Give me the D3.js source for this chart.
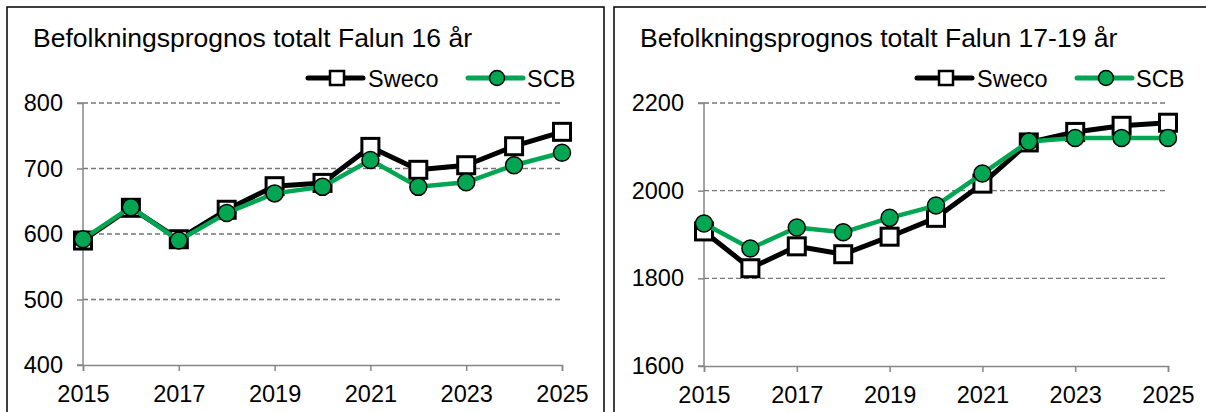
<!DOCTYPE html>
<html>
<head>
<meta charset="utf-8">
<script src="https://cdn.jsdelivr.net/npm/d3@7"></script>
<style>
  body { margin: 0; background: #fff; }
  text { font-family: "Liberation Sans", Arial, sans-serif; fill: #000; }
</style>
</head>
<body>
<svg id="chart"></svg>
<script>
// data
const years = [2015, 2016, 2017, 2018, 2019, 2020, 2021, 2022, 2023, 2024, 2025]
const yearTicks = [2015, 2017, 2019, 2021, 2023, 2025]

const sweco16 = [590, 640, 592, 637, 673, 678, 733, 698, 705, 734, 756]
const scb16 = [592, 641, 590, 632, 662, 672, 713, 672, 679, 705, 724]
const ticks16 = [400, 500, 600, 700, 800]

const sweco1719 = [1907, 1823, 1873, 1855, 1895, 1938, 2016, 2110, 2134, 2148, 2155]
const scb1719 = [1925, 1868, 1916, 1905, 1938, 1966, 2039, 2112, 2120, 2120, 2120]
const ticks1719 = [1600, 1800, 2000, 2200]

const seriesNames = ['Sweco', 'SCB']
const titles = ['Befolkningsprognos totalt Falun 16 år', 'Befolkningsprognos totalt Falun 17-19 år']

const width = 1206, height = 412
const green = '#00a651'
const tickFont = '23.5px'

const svg = d3.select('#chart')
  .attr('width', width)
  .attr('height', height)

svg.append('rect').attr('width', width).attr('height', height).attr('fill', '#fff')

/* panel layout */
const panels = [
  { box: [7, 7, 597], title: [33, 47], plot: [83, 562, 103, 365], legend: [308, 78],
    sweco: sweco16, scb: scb16, ticks: ticks16, text: titles[0] },
  { box: [614, 7, 620], title: [640, 47], plot: [704, 1168, 103, 366], legend: [917, 78],
    sweco: sweco1719, scb: scb1719, ticks: ticks1719, text: titles[1] }
]

function drawPanel(p) {
  const g = svg.append('g')

  g.append('rect')
    .attr('x', p.box[0]).attr('y', p.box[1])
    .attr('width', p.box[2]).attr('height', 440)
    .attr('fill', 'none').attr('stroke', '#000').attr('stroke-width', 1.5)

  g.append('text')
    .attr('x', p.title[0]).attr('y', p.title[1])
    .style('font-size', '26.5px')
    .text(p.text)

  const x = d3.scaleLinear().domain([2015, 2025]).range([p.plot[0], p.plot[1]])
  const y = d3.scaleLinear().domain(d3.extent(p.ticks)).range([p.plot[3], p.plot[2]])

  // gridlines
  g.append('g').selectAll('line')
    .data(p.ticks.slice(1))
    .join('line')
    .attr('x1', p.plot[0]).attr('x2', p.plot[1])
    .attr('y1', d => y(d)).attr('y2', d => y(d))
    .attr('stroke', '#777').attr('stroke-width', 1.3)
    .attr('stroke-dasharray', '5,3')

  const yAxis = g.append('g')
    .attr('transform', `translate(${p.plot[0]},0)`)
    .call(d3.axisLeft(y).tickValues(p.ticks).tickSize(6).tickPadding(14).tickFormat(d3.format('d')))
  const xAxis = g.append('g')
    .attr('transform', `translate(0,${p.plot[3]})`)
    .call(d3.axisBottom(x).tickValues(yearTicks).tickSize(6).tickPadding(14).tickFormat(d3.format('d')))

  for (const ax of [yAxis, xAxis]) {
    ax.select('.domain').attr('stroke', '#868686').attr('stroke-width', 1.5)
    ax.selectAll('.tick line').attr('stroke', '#868686').attr('stroke-width', 1.5)
    ax.selectAll('.tick text')
      .style('font-size', tickFont)
      .style('font-family', '"Liberation Sans", Arial, sans-serif')
      .attr('fill', '#000')
  }
  yAxis.select('.domain').attr('d', `M-6,${p.plot[3]}H0V${p.plot[2]}H-6`)

  const line = d3.line().x((d, i) => x(years[i])).y(d => y(d))

  g.append('path').datum(p.sweco)
    .attr('d', line).attr('fill', 'none')
    .attr('stroke', '#000').attr('stroke-width', 5).attr('stroke-linejoin', 'round')
  g.append('g').selectAll('rect')
    .data(p.sweco)
    .join('rect')
    .attr('x', (d, i) => x(years[i]) - 8.5).attr('y', d => y(d) - 8.5)
    .attr('width', 17).attr('height', 17)
    .attr('fill', '#fff').attr('stroke', '#000').attr('stroke-width', 3)

  g.append('path').datum(p.scb)
    .attr('d', line).attr('fill', 'none')
    .attr('stroke', green).attr('stroke-width', 4.5).attr('stroke-linejoin', 'round')
  g.append('g').selectAll('circle')
    .data(p.scb)
    .join('circle')
    .attr('cx', (d, i) => x(years[i])).attr('cy', d => y(d))
    .attr('r', 8.5)
    .attr('fill', green).attr('stroke', '#000').attr('stroke-width', 1.5)

  // legend
  const [lx, ly] = p.legend
  const leg = g.append('g').attr('transform', `translate(${lx},${ly})`)
  leg.append('line').attr('x1', 0).attr('x2', 55).attr('y1', 0).attr('y2', 0)
    .attr('stroke', '#000').attr('stroke-width', 5).attr('stroke-linecap', 'round')
  leg.append('rect').attr('x', 22).attr('y', -7).attr('width', 14).attr('height', 14)
    .attr('fill', '#fff').attr('stroke', '#000').attr('stroke-width', 2.5)
  leg.append('text').attr('x', 60).attr('y', 8.5).style('font-size', tickFont).text(seriesNames[0])

  leg.append('line').attr('x1', 160).attr('x2', 215).attr('y1', 0).attr('y2', 0)
    .attr('stroke', green).attr('stroke-width', 5).attr('stroke-linecap', 'round')
  leg.append('circle').attr('cx', 189).attr('cy', 0).attr('r', 7.5)
    .attr('fill', green).attr('stroke', '#000').attr('stroke-width', 1.5)
  leg.append('text').attr('x', 219).attr('y', 8.5).style('font-size', tickFont).text(seriesNames[1])
}

panels.forEach(drawPanel)
</script>
</body>
</html>
